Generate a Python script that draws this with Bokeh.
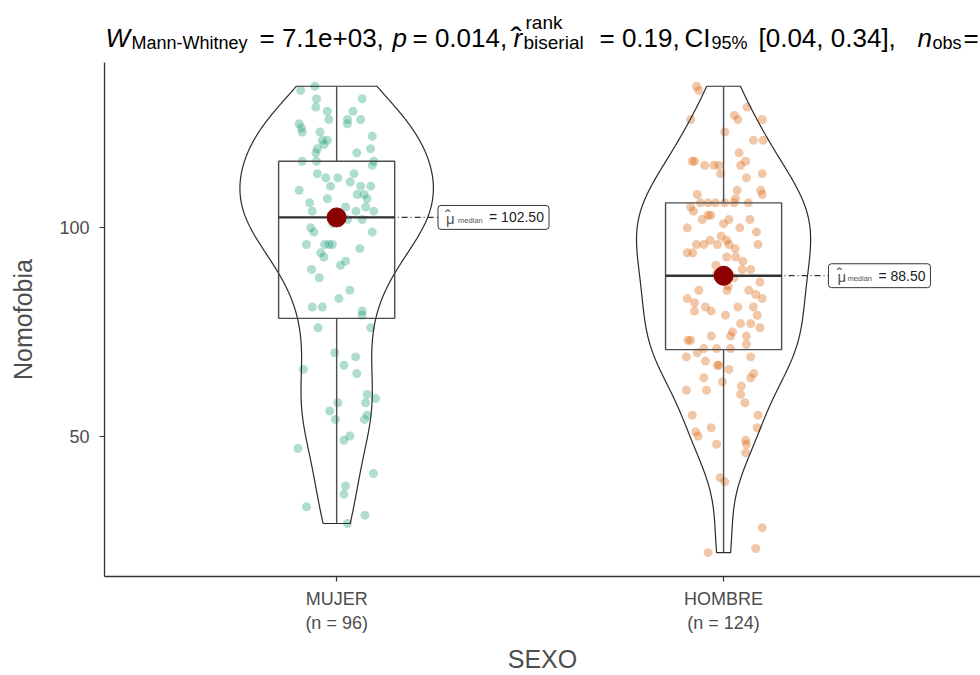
import numpy as np
from bokeh.plotting import figure
from bokeh.layouts import column
from bokeh.models import FixedTicker, Label, Range1d
from bokeh.core.properties import value
from bokeh.embed import file_html
from bokeh.resources import INLINE

# ---------------- data ----------------
groups = ["MUJER", "HOMBRE"]
group_tick_labels = ["MUJER\n(n = 96)", "HOMBRE\n(n = 124)"]
group_colors = ["#1B9E77", "#D95F02"]

mujer_values = [133, 134, 131, 129, 131, 128, 126, 128, 126, 125, 126, 125, 124, 123, 123,
                121, 121, 120, 119, 118, 122, 119, 118, 116, 115, 116, 116, 113, 112, 112,
                113, 110, 110, 110, 109, 108, 108, 107, 107, 105, 104, 104, 105, 102, 102,
                100, 99, 99, 96, 96, 96, 96, 95, 94, 93, 92, 91, 90, 85, 83, 81, 81, 80, 79,
                76, 76, 70, 69, 67, 65, 66, 60, 59, 58, 58, 56, 54, 55, 54, 50, 49, 47, 41,
                38, 36, 33, 31, 29,
                103, 103, 104, 106, 111, 102, 101, 88]
mujer_jitter = [-0.093, -0.056, -0.052, -0.054, 0.066, -0.024, -0.020, 0.042, 0.028, 0.028,
                0.062, -0.097, -0.091, -0.089, -0.043, -0.037, -0.024, -0.033, -0.050, -0.054,
                0.092, 0.088, 0.052, 0.096, 0.092, -0.089, -0.052, -0.050, -0.028, 0.003,
                0.045, -0.016, 0.062, 0.088, -0.097, 0.053, 0.071, 0.079, -0.024, 0.075,
                0.096, -0.063, 0.023, 0.028, 0.066, -0.067, -0.059, 0.092, -0.078, -0.031,
                -0.011, -0.020, 0.060, -0.041, -0.033, 0.023, 0.010, -0.065, 0.034, 0.006,
                -0.063, -0.037, 0.066, 0.066,
                -0.048, 0.088, -0.005, 0.049, 0.019, 0.052, -0.086, 0.079, 0.101, 0.075,
                0.003, -0.018, -0.003, 0.079, 0.072, 0.034, 0.019, -0.100, 0.095, 0.023,
                0.019, -0.078, 0.073, 0.028,
                0.010, -0.015, 0.050, -0.070, 0.035, 0.012, -0.010, -0.045]

hombre_values = [134, 133, 129, 127, 126, 126, 126, 123, 121, 121, 118, 116, 115, 116, 116,
                 115, 115, 115, 113, 112, 113, 109, 109, 108, 108, 107, 106, 106, 105, 104,
                 106, 106, 106, 103, 103, 102, 102, 102, 100, 100, 98, 97, 96, 96, 96, 96, 96,
                 94, 93, 93, 90, 88, 87, 85, 85, 85, 84, 83, 83, 82, 81, 80, 80, 81, 81, 79, 79,
                 77, 77, 76, 75, 74, 74, 74, 73, 73, 72, 70, 71, 71, 71, 69, 68, 69, 67, 67,
                 66, 65, 64, 64, 63, 62, 61, 61, 60, 58, 55, 55, 52, 52, 51, 50, 48, 49, 48,
                 46, 40, 39, 28, 23, 22,
                 89, 89, 90, 91, 92, 94, 95, 97, 99, 101, 106, 86, 88]
hombre_jitter = [-0.070, -0.064, 0.061, 0.028, 0.037, 0.100, -0.085, 0.003, 0.077, 0.102,
                 0.040, 0.057, 0.044, -0.081, -0.075, -0.049, -0.025, -0.012, -0.008, 0.059,
                 0.100, 0.035, 0.096, 0.100, -0.068, 0.031, -0.040, -0.021, -0.085, -0.078,
                 0.003, 0.027, 0.064, -0.040, -0.033, -0.055, 0.014, 0.068, -0.094, 0.042,
                 -0.006, 0.008, -0.016, -0.070, -0.051, 0.014, 0.089, -0.094, 0.008, 0.031,
                 0.048, 0.027, 0.094, -0.064, 0.009, 0.065, 0.083, 0.100, -0.094, -0.075,
                 -0.047, -0.032, -0.075, 0.037, 0.077, 0.005, 0.087,
                 0.044, 0.070, 0.094, 0.023, -0.032, 0.018, 0.059, -0.092, -0.085, 0.059,
                 -0.068, -0.051, -0.018, 0.018, -0.096, -0.047, 0.070, -0.016, -0.012, 0.014,
                 0.078, 0.070, -0.051, -0.003, 0.046, -0.096, -0.044, 0.044, 0.055, -0.081,
                 0.089, -0.032, 0.087, -0.072, -0.066, -0.018, 0.057, 0.059, 0.057, -0.009,
                 0.003, 0.100, 0.083, -0.040,
                 0.015, -0.018, 0.070, -0.020, 0.050, -0.080, 0.030, -0.035, 0.085, 0.000,
                 -0.060, 0.012, -0.010]

y_ticks = [50, 100]
title_parts = [  # (text, x_px, baseline_px, size, style)
    ("W", 105, 37, 26, "italic"),
    ("Mann-Whitney", 131, 42, 18, "normal"),
    ("= 7.1e+03,", 259, 37, 26, "normal"),
    ("p", 392, 37, 26, "italic"),
    ("= 0.014,", 412, 37, 26, "normal"),
    ("r", 513, 37, 26, "italic"),
    ("\u02c6", 510, 38, 34, "normal"),
    ("rank", 525, 22, 19, "normal"),
    ("biserial", 523, 42, 19, "normal"),
    ("= 0.19,", 599, 37, 26, "normal"),
    ("CI", 684, 37, 26, "normal"),
    ("95%", 711, 42, 18, "normal"),
    ("[0.04, 0.34],", 758, 37, 26, "normal"),
    ("n", 917, 37, 26, "italic"),
    ("obs", 932, 42, 18, "normal"),
    ("=", 963, 37, 26, "normal"),
]

FONT = "Liberation Sans"
W = 980
LEFT = 104
TOP = 62          # height of title strip
FRAME_H = 516
BOTTOM = 97
X0, X1 = 0.4, 2.664

# ---------------- title strip ----------------
t = figure(width=W, height=TOP, x_range=Range1d(LEFT, W), y_range=Range1d(TOP, 0),
           output_backend="svg", toolbar_location=None, min_border=0,
           min_border_left=LEFT, x_axis_type=None, y_axis_type=None)
t.outline_line_color = None
t.xgrid.visible = False
t.ygrid.visible = False
for text, xpx, base, size, style in title_parts:
    t.text(x=[xpx], y=[base], text=[text], text_font=value(FONT),
           text_font_size=value("%dpx" % size), text_font_style=value(style),
           text_baseline=value("alphabetic"), text_align=value("left"), text_color="black")

# ---------------- main plot ----------------
p = figure(width=W, height=FRAME_H + BOTTOM, x_range=(X0, X1), y_range=(16.27, 139.7),
           output_backend="svg", toolbar_location=None,
           min_border_left=LEFT, min_border_right=0, min_border_top=0, min_border_bottom=BOTTOM)
p.outline_line_color = None
p.xgrid.visible = False
p.ygrid.visible = False

series = [mujer_values, hombre_values]
jitters = [mujer_jitter, hombre_jitter]

# KDE (gaussian, bw.nrd0) for violins
dens_list = []
for vals in series:
    v = np.asarray(vals, float)
    n = len(v)
    sd = v.std(ddof=1)
    q75, q25 = np.percentile(v, [75, 25])
    bw = 0.9 * min(sd, (q75 - q25) / 1.34) * n ** -0.2
    grid = np.linspace(v.min(), v.max(), 512)
    d = np.exp(-0.5 * ((grid[:, None] - v[None, :]) / bw) ** 2).sum(1) / (n * bw * np.sqrt(2 * np.pi))
    dens_list.append((grid, d))
gmax = max(d.max() for _, d in dens_list)

label_left_off = [0.262, 0.271]
label_w_px = [111, 102]
label_text_off = [(8, 20, 51), (9, 19, 50)]
px_per_x = (W - LEFT) / (X1 - X0)
px_per_y = FRAME_H / (139.7 - 16.27)

for i, vals in enumerate(series):
    g = i + 1
    v = np.asarray(vals, float)
    jit = np.asarray(jitters[i], float)
    p.scatter(x=g + jit, y=v, size=9, fill_color=group_colors[i], fill_alpha=0.35,
              line_color=None)
    grid, d = dens_list[i]
    hw = 0.25 * d / gmax
    xs = np.concatenate([g - hw, (g + hw)[::-1]])
    ys = np.concatenate([grid, grid[::-1]])
    p.patch(xs, ys, fill_color=None, line_color="#2b2b2b", line_width=1.2)
    q1, med, q3 = np.percentile(v, [25, 50, 75])
    iqr = q3 - q1
    lo = v[v >= q1 - 1.5 * iqr].min()
    hi = v[v <= q3 + 1.5 * iqr].max()
    p.segment(x0=[g, g], y0=[q3, q1], x1=[g, g], y1=[hi, lo], line_color="#4d4d4d", line_width=1.4)
    p.quad(left=g - 0.15, right=g + 0.15, bottom=q1, top=q3, fill_color=None,
           line_color="#4d4d4d", line_width=1.4)
    p.segment(x0=g - 0.15, y0=med, x1=g + 0.15, y1=med, line_color="#333333", line_width=2.4)
    left = g + label_left_off[i]
    p.segment(x0=g, y0=med, x1=left, y1=med, line_color="#333333", line_width=1.2,
              line_dash="6 3 1 3")
    p.scatter(x=[g], y=[med], size=19, fill_color="#8B0000", line_color="#8B0000")
    right = left + label_w_px[i] / px_per_x
    half_h = 12 / px_per_y
    try:
        p.quad(left=left, right=right, bottom=med - half_h, top=med + half_h,
               fill_color="white", line_color="#333333", line_width=1, border_radius=3)
    except Exception:
        p.quad(left=left, right=right, bottom=med - half_h, top=med + half_h,
               fill_color="white", line_color="#333333", line_width=1)
    o_mu, o_med, o_eq = label_text_off[i]
    p.add_layout(Label(x=left, y=med, x_offset=o_mu, y_offset=-1, text="\u03bc",
                       text_font=FONT, text_font_size="15px", text_baseline="middle",
                       text_color="#555555"))
    p.add_layout(Label(x=left, y=med, x_offset=o_mu - 1, y_offset=1, text="\u02c6",
                       text_font=FONT, text_font_size="17px", text_baseline="middle",
                       text_color="#555555"))
    p.add_layout(Label(x=left, y=med, x_offset=o_med, y_offset=-3, text="median",
                       text_font=FONT, text_font_size="7.5px", text_baseline="middle",
                       text_color="#555555"))
    p.add_layout(Label(x=left, y=med, x_offset=o_eq, y_offset=0,
                       text="= %.2f" % med,
                       text_font=FONT, text_font_size="14px", text_baseline="middle",
                       text_color="#222222"))

p.xaxis.ticker = FixedTicker(ticks=[1, 2])
p.xaxis.major_label_overrides = {1: group_tick_labels[0], 2: group_tick_labels[1]}
p.yaxis.ticker = FixedTicker(ticks=y_ticks)
p.xaxis.axis_label = "SEXO"
p.yaxis.axis_label = "Nomofobia"
for ax in (p.xaxis, p.yaxis):
    ax.axis_line_color = "#333333"
    ax.axis_line_width = 1.3
    ax.major_tick_line_color = "#333333"
    ax.major_tick_line_width = 1.2
    ax.major_tick_in = 0
    ax.major_tick_out = 5
    ax.minor_tick_line_color = None
    ax.major_label_text_font = FONT
    ax.major_label_text_font_size = "18px"
    ax.major_label_text_color = "#4d4d4d"
    ax.axis_label_text_font = FONT
    ax.axis_label_text_font_size = "25px"
    ax.axis_label_text_font_style = "normal"
    ax.axis_label_text_color = "#4d4d4d"
p.xaxis.major_label_standoff = 7
p.xaxis.axis_label_standoff = 9
p.yaxis.major_label_standoff = 10
p.yaxis.axis_label_standoff = 19

layout = column(t, p, spacing=0)
open("out.html", "w").write(file_html(layout, INLINE))
